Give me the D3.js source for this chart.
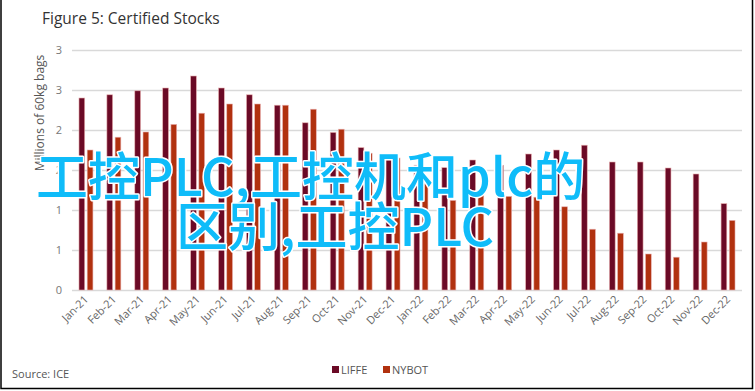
<!DOCTYPE html>
<html><head><meta charset="utf-8">
<script src="https://cdn.jsdelivr.net/npm/d3@7"></script>
<style>
html,body{margin:0;padding:0;background:#fff;}
svg{display:block;}
</style></head>
<body>
<svg id="c" width="755" height="391"></svg>
<script>
const months = ["Jan-21","Feb-21","Mar-21","Apr-21","May-21","Jun-21","Jul-21","Aug-21","Sep-21","Oct-21","Nov-21","Dec-21",
  "Jan-22","Feb-22","Mar-22","Apr-22","May-22","Jun-22","Jul-22","Aug-22","Sep-22","Oct-22","Nov-22","Dec-22"];
const liffe = [2.40,2.44,2.49,2.525,2.675,2.525,2.44,2.31,2.09,1.97,1.78,1.65,1.56,1.53,1.625,1.56,1.70,1.75,1.81,1.60,1.60,1.525,1.45,1.08];
const nybot = [1.75,1.91,1.975,2.07,2.21,2.325,2.325,2.31,2.26,2.01,1.71,1.65,1.40,1.12,1.23,1.17,1.16,1.04,0.76,0.71,0.45,0.41,0.60,0.87];
const yTicks = [0,0.5,1,1.5,2,2.5,3];
const seriesNames = ["LIFFE","NYBOT"];
const colors = ["#6b0a26","#b1310f"];
const title = "Figure 5: Certified Stocks";
const yTitle = "Millions of 60kg bags";
const source = "Source: ICE";
const watermark = ["工控PLC,工控机和plc的","区别,工控PLC"];

(function(){
const svg = d3.select("#c");
const font = "'Open Sans','Noto Sans',sans-serif";
const pLeft = 72, pRight = 742, pTop = 50, pBottom = 290;

const x = d3.scaleBand().domain(months).range([pLeft, pRight]).paddingInner(0.5).paddingOuter(0.25);
const xs = d3.scaleBand().domain(seriesNames).range([0, x.bandwidth()]).paddingInner(0.3);
const y = d3.scaleLinear().domain([0, 3]).range([pBottom, pTop]);

// border
svg.append("path").attr("d", `M1,0 V388.5 H752.5 V0`).attr("fill","none").attr("stroke","#000").attr("stroke-width",1.5);

// title
svg.append("text").attr("x",42).attr("y",24).attr("font-family",font).attr("font-size",15.5)
  .attr("fill","#333").text(title);

// grid
const yAxis = d3.axisLeft(y).tickValues(yTicks).tickSize(-(pRight-pLeft)).tickFormat(d => Math.round(d));
const gy = svg.append("g").attr("transform",`translate(${pLeft},0)`).call(yAxis);
gy.select(".domain").remove();
gy.selectAll(".tick line").attr("stroke","#d9d9d9").attr("stroke-width",1.3);
gy.selectAll(".tick text").attr("x",-10).attr("fill","#777").attr("font-family",font).attr("font-size",11);

// bars
const groups = svg.append("g").selectAll("g").data(months).join("g")
  .attr("transform", d => `translate(${x(d)},0)`);
groups.selectAll("rect").data((d,i) => [{s:"LIFFE",v:liffe[i],c:colors[0]},{s:"NYBOT",v:nybot[i],c:colors[1]}])
  .join("rect")
  .attr("x", d => xs(d.s)).attr("width", xs.bandwidth())
  .attr("y", d => y(d.v)).attr("height", d => y(0) - y(d.v))
  .attr("fill", d => d.c).attr("stroke", "#e8b0b0").attr("stroke-width", 0.6);

// x axis labels
const xAxis = d3.axisBottom(x).tickSize(0).tickPadding(0);
const gx = svg.append("g").attr("transform",`translate(0,${pBottom})`).call(xAxis);
gx.select(".domain").remove();
gx.selectAll(".tick text").attr("font-family",font).attr("font-size",11).attr("fill","#666")
  .attr("text-anchor","end").attr("dy",0).attr("y",0)
  .attr("transform","translate(3,10) rotate(-45)");

// y title
svg.append("text").attr("transform","translate(44,113) rotate(-90)").attr("text-anchor","middle")
  .attr("font-family",font).attr("font-size",12).attr("fill","#555").text(yTitle);

// source
svg.append("text").attr("x",12).attr("y",378).attr("font-family",font).attr("font-size",11)
  .attr("fill","#555").text(source);

// legend
const lg = svg.append("g");
const lgx = [332, 383];
seriesNames.forEach((n,i) => {
  lg.append("rect").attr("x",lgx[i]).attr("y",366).attr("width",7).attr("height",7).attr("fill",colors[i]);
  lg.append("text").attr("x",lgx[i]+9).attr("y",374).attr("font-family",font).attr("font-size",11)
    .attr("fill","#555").text(n);
});

// watermark overlay
const wm = svg.append("g").attr("font-family","'Noto Sans CJK SC',sans-serif").attr("font-size",52)
  .attr("font-weight",500)
  .attr("fill","#0fbcf9").attr("stroke","#fff").attr("stroke-width",3).attr("paint-order","stroke")
  .attr("stroke-linejoin","round");
wm.append("text").attr("x",36).attr("y",196).text(watermark[0]);
wm.append("text").attr("x",176).attr("y",246).text(watermark[1]);
})();
</script>
</body></html>
